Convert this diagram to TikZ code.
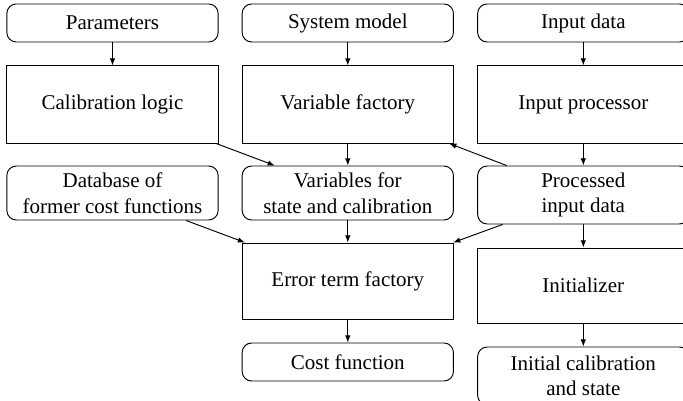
\documentclass[tikz,border=0pt]{standalone}
\usepackage{fontspec}
\setmainfont{Liberation Serif}
\usetikzlibrary{arrows.meta}
\tikzset{
  rbox/.style={draw, rounded corners=4.5pt, minimum width=100.6pt, align=center, inner sep=1pt, line width=0.45pt},
  sbox/.style={draw, minimum width=100.6pt, align=center, inner sep=1pt, line width=0.45pt},
  arr/.style={-{Latex[length=3.4pt,width=2.6pt]}, line width=0.45pt}
}
\begin{document}
\begin{tikzpicture}[x=0.4762pt, y=-0.4762pt, font=\fontsize{10pt}{12.2pt}\selectfont]
\useasboundingbox (0,0) rectangle (683,401);
\clip (0,0) rectangle (683,401);
% row 1
\node[rbox, minimum height=18.1pt] (par) at (112.5,23) {Parameters};
\node[rbox, minimum height=18.1pt] (sys) at (347.8,23) {System model};
\node[rbox, minimum height=18.1pt] (inp) at (583.3,23) {Input data};
% row 2
\node[sbox, minimum height=36.7pt] (cal) at (112.5,104.5) {Calibration logic};
\node[sbox, minimum height=36.7pt] (vf) at (347.8,104.5) {Variable factory};
\node[sbox, minimum height=36.7pt] (ip) at (583.3,104.5) {Input processor};
% row 3
\node[rbox, minimum height=25.7pt] (db) at (112.5,193) {Database of\\former cost functions};
\node[rbox, minimum height=25.7pt] (vars) at (347.8,193) {Variables for\\state and calibration};
\node[rbox, minimum height=27.6pt] (pid) at (583.3,195) {Processed\\input data};
% row 4
\node[sbox, minimum height=36.2pt] (etf) at (347.8,281) {Error term factory};
\node[sbox, minimum height=35.7pt] (ini) at (583.3,285.5) {Initializer};
% row 5
\node[rbox, minimum height=18.1pt] (cost) at (347.8,362) {Cost function};
\node[rbox, minimum height=27.6pt] (ics) at (583.3,376) {Initial calibration\\and state};
% arrows
\draw[arr] (par) -- (cal);
\draw[arr] (sys) -- (vf);
\draw[arr] (inp) -- (ip);
\draw[arr] (vf) -- (vars);
\draw[arr] (ip) -- (pid);
\draw[arr] (cal) -- (vars);
\draw[arr] (pid) -- (vf);
\draw[arr] (vars) -- (etf);
\draw[arr] (db) -- (etf);
\draw[arr] (pid) -- (etf);
\draw[arr] (pid) -- (ini);
\draw[arr] (etf) -- (cost);
\draw[arr] (ini) -- (ics);
\end{tikzpicture}
\end{document}
